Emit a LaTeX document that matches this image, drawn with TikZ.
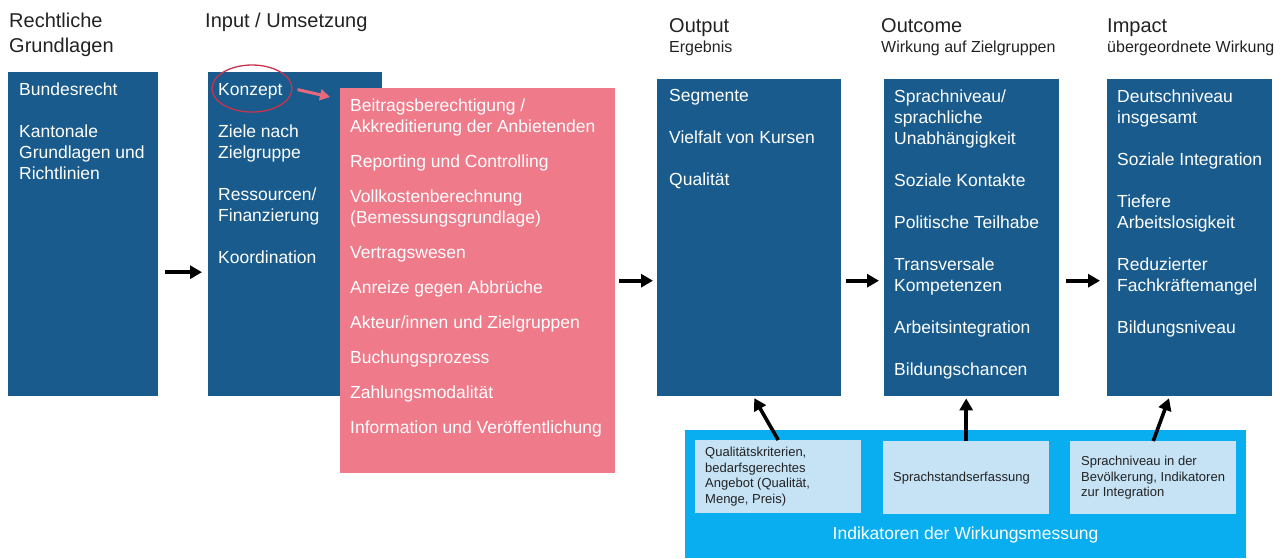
\documentclass[tikz,border=0pt]{standalone}
\usepackage{fontspec}
\setmainfont{Liberation Sans}
\usepackage{xcolor}
\usetikzlibrary{arrows.meta, calc, positioning, shapes.geometric}

\definecolor{blueBox}{HTML}{185B8C}
\definecolor{pinkBox}{HTML}{EE7A8A}
\definecolor{pinkArrow}{HTML}{E8687C}
\definecolor{cyanBox}{HTML}{08AEEF}
\definecolor{lightBox}{HTML}{C6E3F6}
\definecolor{ringRed}{HTML}{C8334F}
\definecolor{headGray}{HTML}{222222}

\tikzset{
  colbox/.style={fill=blueBox, inner sep=0pt, anchor=north west},
  pinkbox/.style={fill=pinkBox, inner sep=0pt, anchor=north west},
  cyanbox/.style={fill=cyanBox, inner sep=0pt, anchor=north west},
  lightbox/.style={fill=lightBox, inner sep=0pt, anchor=north west, minimum width=166pt, minimum height=73pt},
  itemtext/.style={anchor=north west, inner sep=0pt, align=left, text=white, font=\fontsize{17.5}{21}\selectfont},
  headtext/.style={inner sep=0pt, align=left, text=headGray, font=\fontsize{20}{25}\selectfont},
  subtext/.style={inner sep=0pt, text=headGray, font=\fontsize{16}{19}\selectfont},
  smalltext/.style={anchor=west, inner sep=0pt, align=left, text=headGray, font=\fontsize{13}{15.7}\selectfont},
  flowarrow/.style={-{Triangle[length=12pt,width=13pt]}, line width=3.6pt, black},
  pinkarrow/.style={-{Triangle[length=10pt,width=11pt]}, line width=3pt, pinkArrow},
  ring/.style={ellipse, draw=ringRed, line width=1.3pt, minimum width=80pt, minimum height=47pt, inner sep=0pt}
}

\begin{document}
\begin{tikzpicture}[x=1pt, y=-1pt]
\useasboundingbox (0,0) rectangle (1285,558);

% Headings
\node[headtext, anchor=north west] (hrecht) at (9,12.7) {Rechtliche\\Grundlagen};
\node[headtext, anchor=base west] (hinput) at (205,27) {Input / Umsetzung};
\node[headtext, anchor=base west] (houtput) at (669,32) {Output};
\node[subtext, anchor=base west] (soutput) at (669,52.5) {Ergebnis};
\node[headtext, anchor=base west] (houtcome) at (881,32) {Outcome};
\node[subtext, anchor=base west] (soutcome) at (881,52.5) {Wirkung auf Zielgruppen};
\node[headtext, anchor=base west] (himpact) at (1107,32) {Impact};
\node[subtext, anchor=base west] (simpact) at (1107,52.5) {übergeordnete Wirkung};

% Columns
\node[colbox, minimum width=150pt, minimum height=324pt] (recht) at (8,72) {};
\node[itemtext] (rechttxt) at ([xshift=11pt,yshift=-11pt]recht.north west)
  {Bundesrecht\\[21pt]Kantonale\\Grundlagen und\\Richtlinien};

\node[colbox, minimum width=174pt, minimum height=324pt] (input) at (208,72) {};
\node[itemtext] (inputtxt) at ([xshift=10pt,yshift=-11pt]input.north west)
  {Konzept\\[21pt]Ziele nach\\Zielgruppe\\[21pt]Ressourcen/\\Finanzierung\\[21pt]Koordination};
\node[ring] (ring) at (252,88.5) {};

\node[pinkbox, minimum width=275pt, minimum height=385pt] (pink) at (340,88) {};
\node[itemtext] (pinktxt) at ([xshift=10pt,yshift=-11pt]pink.north west)
  {Beitragsberechtigung /\\Akkreditierung der Anbietenden\\[14pt]Reporting und Controlling\\[14pt]%
   Vollkostenberechnung\\(Bemessungsgrundlage)\\[14pt]Vertragswesen\\[14pt]Anreize gegen Abbrüche\\[14pt]%
   Akteur/innen und Zielgruppen\\[14pt]Buchungsprozess\\[14pt]Zahlungsmodalität\\[14pt]%
   Information und Veröffentlichung};
\draw[pinkarrow, shorten <=5pt] (ring.east) -- ([xshift=-10pt,yshift=-9pt]pink.north west);

\node[colbox, minimum width=184pt, minimum height=317pt] (output) at (657,79) {};
\node[itemtext] (outputtxt) at ([xshift=12pt,yshift=-10pt]output.north west)
  {Segmente\\[21pt]Vielfalt von Kursen\\[21pt]Qualität};

\node[colbox, minimum width=175pt, minimum height=317pt] (outcome) at (884,79) {};
\node[itemtext] (outcometxt) at ([xshift=10pt,yshift=-11pt]outcome.north west)
  {Sprachniveau/\\sprachliche\\Unabhängigkeit\\[21pt]Soziale Kontakte\\[21pt]Politische Teilhabe\\[21pt]%
   Transversale\\Kompetenzen\\[21pt]Arbeitsintegration\\[21pt]Bildungschancen};

\node[colbox, minimum width=165pt, minimum height=317pt] (impact) at (1107,79) {};
\node[itemtext] (impacttxt) at ([xshift=10pt,yshift=-11pt]impact.north west)
  {Deutschniveau\\insgesamt\\[21pt]Soziale Integration\\[21pt]Tiefere\\Arbeitslosigkeit\\[21pt]%
   Reduzierter\\Fachkräftemangel\\[21pt]Bildungsniveau};

% Indicators
\node[cyanbox, minimum width=561pt, minimum height=128pt] (cyan) at (685,430) {};
\node[inner sep=0pt, anchor=base, text=white, font=\fontsize{17.5}{21}\selectfont] (cyanlabel) at (965.5,539)
  {Indikatoren der Wirkungsmessung};

\node[lightbox] (lbqual) at (695,440) {};
\node[smalltext] (lbqualtxt) at ([xshift=10pt]lbqual.west)
  {Qualitätskriterien,\\bedarfsgerechtes\\Angebot (Qualität,\\Menge, Preis)};
\node[lightbox] (lbsprach) at (883,441) {};
\node[smalltext] (lbsprachtxt) at ([xshift=10pt]lbsprach.west) {Sprachstandserfassung};
\node[lightbox] (lbniveau) at (1070,441) {};
\node[smalltext] (lbniveautxt) at ([xshift=11pt]lbniveau.west)
  {Sprachniveau in der\\Bevölkerung, Indikatoren\\zur Integration};

% Arrows
\draw[flowarrow, shorten <=7pt, shorten >=6pt] ([yshift=-38pt]recht.east) -- ([yshift=-38pt]input.west);
\draw[flowarrow, shorten <=4pt, shorten >=4pt] (pink.east) -- (output.west |- pink.east);
\draw[flowarrow, shorten <=5pt, shorten >=5pt] (output.east |- pink.east) -- (outcome.west |- pink.east);
\draw[flowarrow, shorten <=7pt, shorten >=7pt] (outcome.east |- pink.east) -- (impact.west |- pink.east);

\draw[flowarrow, shorten >=2pt] (lbqual.north) -- ([xshift=4pt]output.south);
\draw[flowarrow, shorten >=2pt] (lbsprach.north) -- (lbsprach.north |- outcome.south);
\draw[flowarrow, shorten >=2pt] (lbniveau.north) -- ([xshift=-20pt]impact.south);
\end{tikzpicture}
\end{document}
